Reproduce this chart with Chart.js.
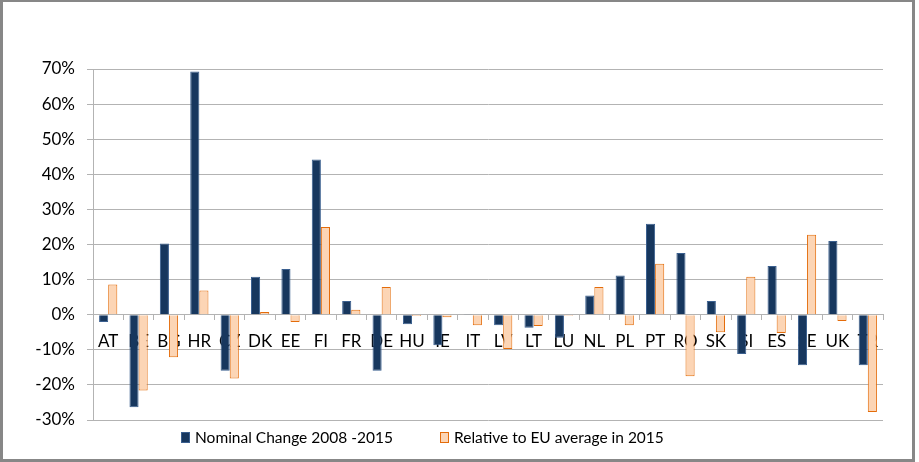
<!DOCTYPE html>
<html>
<head>
<meta charset="utf-8">
<script src="https://cdn.jsdelivr.net/npm/chart.js@4/dist/chart.umd.min.js"></script>
<style>
  html, body { margin: 0; padding: 0; background: #fff; }
  #wrap { width: 919px; height: 462px; }
</style>
</head>
<body>
<div id="wrap"><canvas id="region" width="919" height="462"></canvas></div>
<script>
const countries = ['AT','BE','BG','HR','CZ','DK','EE','FI','FR','DE','HU','IE','IT','LV','LT','LU','NL','PL','PT','RO','SK','SI','ES','SE','UK','TR'];
const nominalChange = [-2.1,-26.4,20.3,69.3,-16.0,10.8,13.0,44.2,3.9,-16.0,-2.7,-8.7,0.2,-3.0,-3.7,-6.6,5.5,11.2,25.9,17.6,3.9,-11.2,13.9,-14.4,21.0,-14.4];
const relativeToEU = [8.6,-21.6,-12.1,6.9,-18.2,0.8,-2.1,25.0,1.4,7.9,-0.4,-0.7,-3.0,-9.8,-3.2,-0.3,7.9,-3.0,14.5,-17.5,-5.0,10.8,-5.2,22.8,-1.8,-27.7];
const yTicks = [-30,-20,-10,0,10,20,30,40,50,60,70];
const seriesNames = ['Nominal Change 2008 -2015','Relative to EU average in 2015'];

const navy = '#17375E', navyEdge = '#3A5F8F';
const peach = '#FCD5B5', peachEdge = '#E46C0A';
const gridGray = '#B3B3B3';
const font = 'Lato, "Open Sans", sans-serif';

let ctx = document.getElementById('region').getContext('2d');
let chart = new Chart(ctx, {
  type: 'bar',
  data: {
    labels: countries,
    datasets: [{
      label: seriesNames[0],
      data: nominalChange,
      backgroundColor: navy,
      borderColor: navyEdge,
      borderWidth: 1,
      categoryPercentage: 0.6,
      barPercentage: 1.0
    }, {
      label: seriesNames[1],
      data: relativeToEU,
      backgroundColor: peach,
      borderColor: peachEdge,
      borderWidth: 1,
      categoryPercentage: 0.6,
      barPercentage: 1.0
    }]
  },
  options: {
    responsive: false,
    animation: false,
    layout: { padding: { left: 0, top: 69, right: 36, bottom: 42 } },
    plugins: {
      legend: { display: false },
      tooltip: { enabled: false }
    },
    scales: {
      x: {
        position: { y: 0 },
        grid: { drawOnChartArea: false, drawTicks: true, tickLength: 5, color: gridGray, offset: true },
        border: { display: true, color: gridGray },
        ticks: { color: '#000', font: { family: font, size: 17 }, padding: 12, maxRotation: 0, autoSkip: false }
      },
      y: {
        min: -30,
        max: 70,
        afterBuildTicks: s => { s.ticks = yTicks.map(v => ({ value: v })); },
        afterFit: s => { s.width = 93; },
        grid: { color: gridGray, tickLength: 6 },
        border: { display: true, color: gridGray },
        ticks: {
          color: '#000',
          font: { family: font, size: 17 },
          padding: 12,
          callback: v => v + '%'
        }
      }
    }
  },
  plugins: [{
    id: 'frame',
    beforeDraw: function (chart) {
      let c = chart.ctx;
      c.save();
      c.fillStyle = '#fff';
      c.fillRect(0, 0, chart.width, chart.height);
      c.restore();
    },
    afterDraw: function (chart) {
      let c = chart.ctx;
      c.save();
      // outer frame
      c.fillStyle = '#878787';
      c.fillRect(0, 0, 915, 2);
      c.fillRect(0, 0, 3, 462);
      c.fillRect(912, 0, 3, 462);
      c.fillRect(0, 459, 915, 3);
      // legend
      let items = [{ x: 181, color: navy, edge: navyEdge }, { x: 440, color: peach, edge: peachEdge }];
      c.font = '15.5px ' + font;
      c.textBaseline = 'middle';
      items.forEach((it, i) => {
        c.fillStyle = it.color;
        c.fillRect(it.x, 432, 9, 11);
        c.strokeStyle = it.edge;
        c.lineWidth = 1;
        c.strokeRect(it.x + 0.5, 432.5, 8, 10);
        c.fillStyle = '#000';
        c.fillText(chart.data.datasets[i].label, it.x + 14, 438);
      });
      c.restore();
    }
  }]
});
</script>
</body>
</html>
